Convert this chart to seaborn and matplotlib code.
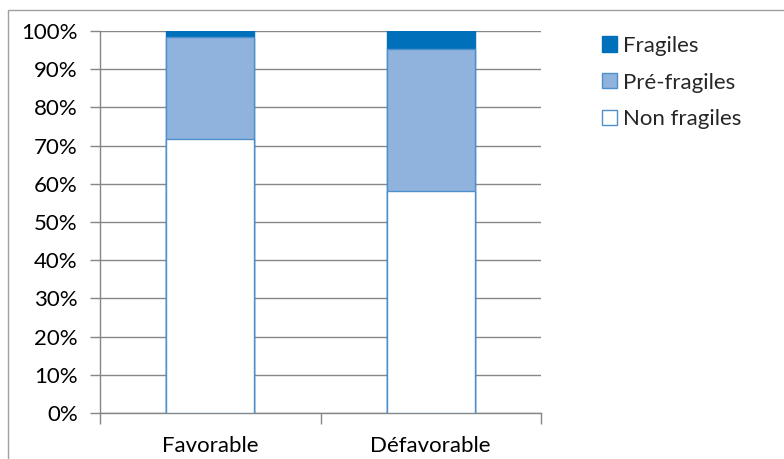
import matplotlib
matplotlib.use("Agg")
import matplotlib.pyplot as plt
import seaborn as sns
import pandas as pd
import numpy as np
from matplotlib.patches import Rectangle, Patch
from matplotlib.ticker import FuncFormatter

categories = ["Favorable", "Défavorable"]
non_fragiles = [71.7, 58.2]
pre_fragiles = [26.8, 37.1]
fragiles = [1.5, 4.7]
series_names = ["Fragiles", "Pré-fragiles", "Non fragiles"]
yticks = list(range(0, 101, 10))

sns.set_theme(style="white")
plt.rcParams['font.family'] = ['Lato', 'DejaVu Sans']

fig = plt.figure(figsize=(7.84, 4.59), dpi=100)
W, H = 784, 459
ax = fig.add_axes([100 / W, 1 - 413 / H, 441 / W, (413 - 31) / H])

df = pd.DataFrame({"cat": categories, "non": non_fragiles,
                   "pre": pre_fragiles, "frag": fragiles})
df["c1"] = df["non"]
df["c2"] = df["non"] + df["pre"]
df["c3"] = df["non"] + df["pre"] + df["frag"]

edge = "#4F8FCB"
col_frag = "#0070BA"
col_pre = "#8FB3DC"
col_non = "#FFFFFF"

sns.barplot(data=df, x="cat", y="c3", color=col_frag, width=0.4, ax=ax,
            edgecolor=col_frag, linewidth=1, saturation=1, zorder=3)
sns.barplot(data=df, x="cat", y="c2", color=col_pre, width=0.4, ax=ax,
            edgecolor=edge, linewidth=1, saturation=1, zorder=3)
sns.barplot(data=df, x="cat", y="c1", color=col_non, width=0.4, ax=ax,
            edgecolor=edge, linewidth=1, saturation=1, zorder=3)

ax.set_ylim(0, 100)
ax.set_xlim(-0.5, 1.5)
ax.set_yticks(yticks)
ax.yaxis.set_major_formatter(FuncFormatter(lambda v, p: f"{int(v)}%"))
ax.set_xlabel("")
ax.set_ylabel("")
ax.grid(axis="y", color="#868686", linewidth=1, zorder=0)
ax.grid(axis="x", visible=False)
ax.set_axisbelow(True)
for s in ["top", "right"]:
    ax.spines[s].set_visible(False)
for s in ["left", "bottom"]:
    ax.spines[s].set_color("#868686")
    ax.spines[s].set_linewidth(1)

FS = 16
ax.tick_params(axis="y", which="major", left=True, length=7, width=1,
               color="#868686", labelsize=FS, pad=9, labelcolor="black")
ax.tick_params(axis="x", which="major", bottom=False, labelsize=FS,
               pad=10.5, labelcolor="black")
ax.set_xticks([0, 1])
ax.set_xticklabels(categories)
ax.xaxis.set_minor_locator(matplotlib.ticker.FixedLocator([-0.5, 0.5, 1.5]))
ax.tick_params(axis="x", which="minor", bottom=True, length=8, width=1,
               color="#868686")

handles = [Patch(facecolor=col_frag, edgecolor=col_frag),
           Patch(facecolor=col_pre, edgecolor=edge),
           Patch(facecolor=col_non, edgecolor=edge)]
fig.legend(handles, series_names, loc="upper left",
           bbox_to_anchor=(593 / W, 1 - 27 / H), frameon=False,
           fontsize=FS, handlelength=0.68, handleheight=0.68,
           handletextpad=0.25, labelspacing=0.75, borderaxespad=0)

fig.patches.append(Rectangle((8 / W, -0.1), 1.2, 1 - 10 / H + 0.1,
                             transform=fig.transFigure, fill=False,
                             edgecolor="#A0A0A0", linewidth=1))

fig.savefig("out.png", dpi=100, facecolor="white")
